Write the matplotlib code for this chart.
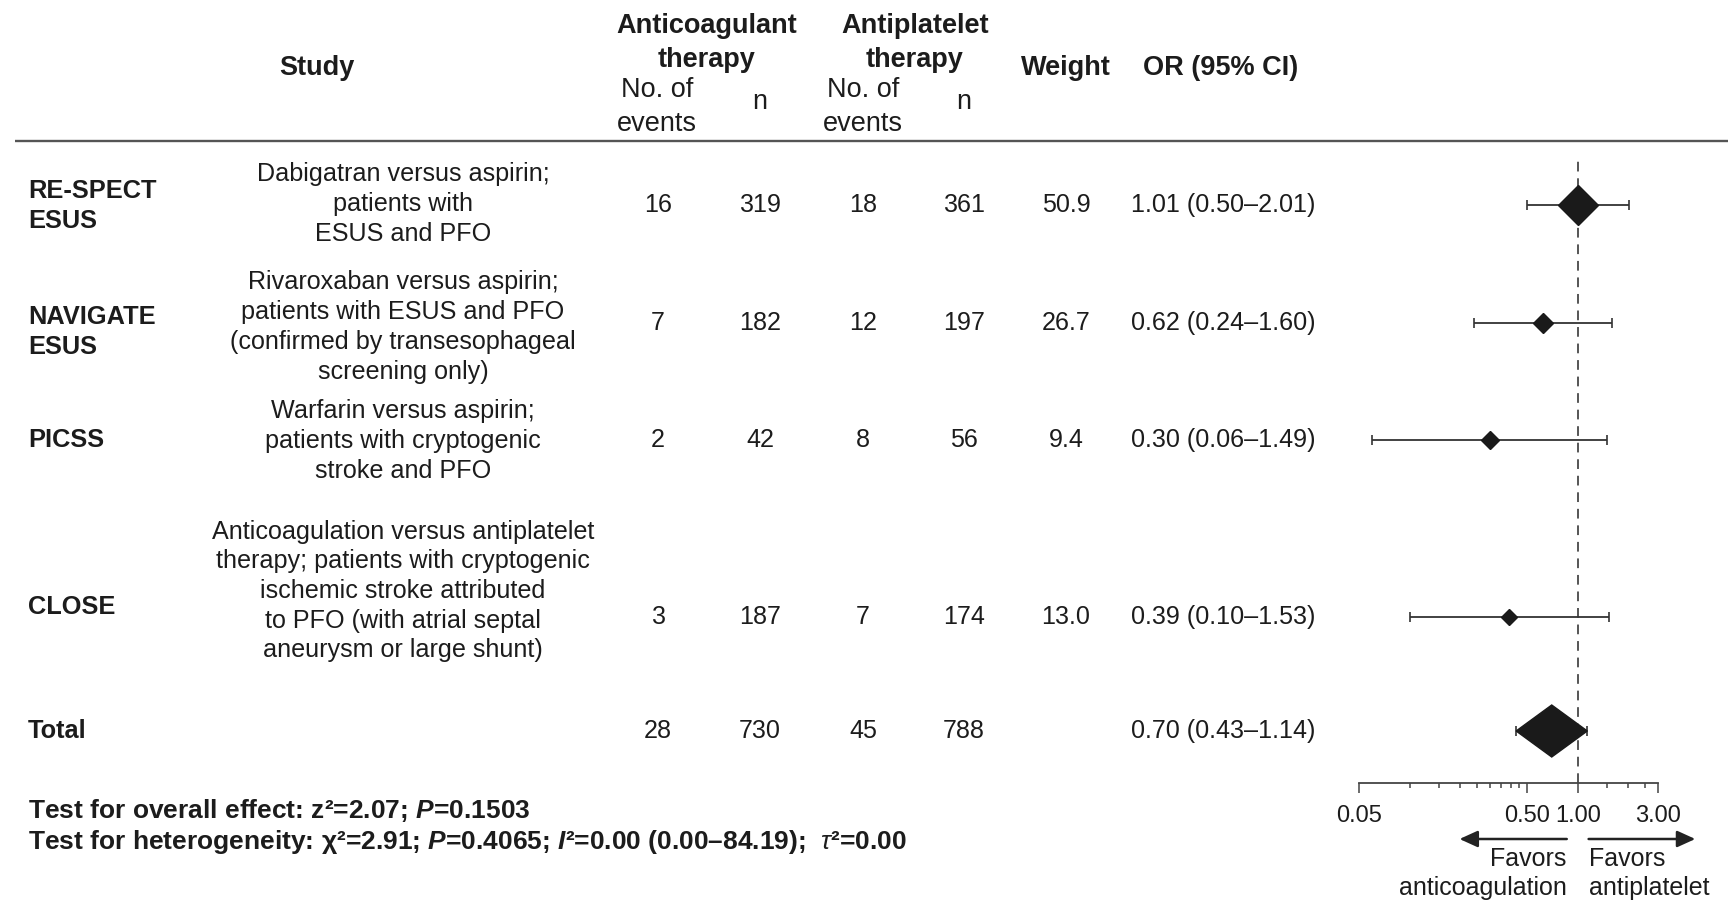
import matplotlib.pyplot as plt

plt.rcParams['font.family'] = ['Liberation Sans', 'DejaVu Sans']
plt.rcParams['mathtext.fontset'] = 'custom'
plt.rcParams['mathtext.rm'] = 'Liberation Sans'
plt.rcParams['mathtext.it'] = 'Liberation Sans:italic'
plt.rcParams['mathtext.bf'] = 'Liberation Sans:bold'
plt.rcParams['mathtext.bfit'] = 'Liberation Sans:italic:bold'

# Data
STUDIES = ["RE-SPECT\nESUS", "NAVIGATE\nESUS", "PICSS", "CLOSE"]
DESCRIPTIONS = [
    "Dabigatran versus aspirin;\npatients with\nESUS and PFO",
    "Rivaroxaban versus aspirin;\npatients with ESUS and PFO\n"
    "(confirmed by transesophageal\nscreening only)",
    "Warfarin versus aspirin;\npatients with cryptogenic\nstroke and PFO",
    "Anticoagulation versus antiplatelet\ntherapy; patients with cryptogenic\n"
    "ischemic stroke attributed\nto PFO (with atrial septal\naneurysm or large shunt)",
]
AC_EVENTS = [16, 7, 2, 3]
AC_N = [319, 182, 42, 187]
AP_EVENTS = [18, 12, 8, 7]
AP_N = [361, 197, 56, 174]
WEIGHTS = [50.9, 26.7, 9.4, 13.0]
OR = [1.01, 0.62, 0.30, 0.39]
CI_LO = [0.50, 0.24, 0.06, 0.10]
CI_HI = [2.01, 1.60, 1.49, 1.53]

TOTAL_EVENTS = [28, 730, 45, 788]
TOTAL_OR = 0.70
TOTAL_LO = 0.43
TOTAL_HI = 1.14

TICKS = [0.05, 0.5, 1.0, 3.0]
TICK_LABELS = ["0.05", "0.50", "1.00", "3.00"]
MINOR_TICKS = [0.1, 0.15, 0.2, 0.25, 0.3, 0.35, 0.4, 0.45, 1.5, 2.0, 2.5]

TEST_OVERALL = r"Test for overall effect: z²=2.07; $\mathbfit{P}$=0.1503"
TEST_HETERO = (r"Test for heterogeneity: χ²=2.91; $\mathbfit{P}$=0.4065; "
               r"$\mathbfit{I}$²=0.00 (0.00–84.19);  $\tau$²=0.00")

# Layout (pixels, top-left origin)
W, H = 1728, 900
ROW_Y = [205, 323, 440, 617]
NAME_Y = [206, 332, 440, 607]
DESC_Y = [204, 327, 441, 591]
TOTAL_Y = 731
COL_X = [658, 760, 863, 964, 1066]
OR_X = 1131
MARKER_SIZES = [20, 10, 9, 8]

TXT = '#1c1c1c'
BODY = 18.1
HEAD = 19.5

fig = plt.figure(figsize=(W / 100, H / 100), dpi=100)
tab = fig.add_axes([0, 0, 1, 1])
tab.set_xlim(0, W)
tab.set_ylim(H, 0)
tab.axis('off')

# header
tab.text(317, 68, "Study", ha='center', va='center', fontsize=HEAD,
         fontweight='bold', color=TXT)
for x, s in [(707, "Anticoagulant\ntherapy"), (915, "Antiplatelet\ntherapy")]:
    tab.text(x, 43, s, ha='center', va='center', fontsize=HEAD,
             fontweight='bold', color=TXT, linespacing=1.36)
for x in (657, 863):
    tab.text(x, 107, "No. of\nevents", ha='center', va='center',
             fontsize=HEAD, color=TXT, linespacing=1.36)
for x in (760, 964):
    tab.text(x, 102, "n", ha='center', va='center', fontsize=HEAD, color=TXT)
tab.text(1066, 68, "Weight", ha='center', va='center', fontsize=HEAD,
         fontweight='bold', color=TXT)
tab.text(1143, 68, "OR (95% CI)", ha='left', va='center', fontsize=HEAD,
         fontweight='bold', color=TXT)
tab.plot([15, W], [141, 141], color='#555555', lw=1.7, solid_capstyle='butt')

# rows
for i in range(len(STUDIES)):
    tab.text(28, NAME_Y[i], STUDIES[i], ha='left', va='center', fontsize=18.3,
             fontweight='bold', color=TXT, linespacing=1.3)
    tab.text(403, DESC_Y[i], DESCRIPTIONS[i], ha='center', va='center',
             fontsize=BODY, color=TXT, linespacing=1.3)
    vals = [AC_EVENTS[i], AC_N[i], AP_EVENTS[i], AP_N[i], f"{WEIGHTS[i]:.1f}"]
    for x, v in zip(COL_X, vals):
        tab.text(x, ROW_Y[i], str(v), ha='center', va='center',
                 fontsize=BODY, color=TXT)
    tab.text(OR_X, ROW_Y[i], f"{OR[i]:.2f} ({CI_LO[i]:.2f}–{CI_HI[i]:.2f})",
             ha='left', va='center', fontsize=BODY, color=TXT)

tab.text(28, TOTAL_Y, "Total", ha='left', va='center', fontsize=18.3,
         fontweight='bold', color=TXT)
for x, v in zip(COL_X, TOTAL_EVENTS):
    tab.text(x, TOTAL_Y, str(v), ha='center', va='center', fontsize=BODY,
             color=TXT)
tab.text(OR_X, TOTAL_Y, f"{TOTAL_OR:.2f} ({TOTAL_LO:.2f}–{TOTAL_HI:.2f})",
         ha='left', va='center', fontsize=BODY, color=TXT)

tab.text(28, 811, TEST_OVERALL, ha='left', va='center', fontsize=19,
         fontweight='bold', color=TXT)
tab.text(28, 842, TEST_HETERO, ha='left', va='center', fontsize=19,
         fontweight='bold', color=TXT)

# forest panel
x0, x1, y0, y1 = 1359, 1658, 160, 783
fa = fig.add_axes([x0 / W, 1 - y1 / H, (x1 - x0) / W, (y1 - y0) / H])
fa.set_facecolor('none')
fa.set_xscale('log')
fa.set_xlim(TICKS[0], TICKS[-1])
fa.set_ylim(y1, y0)
for sp in ('top', 'left', 'right'):
    fa.spines[sp].set_visible(False)
fa.spines['bottom'].set_color('#444444')
fa.spines['bottom'].set_linewidth(1.3)
fa.set_yticks([])
fa.set_xticks(TICKS)
fa.set_xticklabels(TICK_LABELS)
fa.set_xticks(MINOR_TICKS, minor=True)
fa.xaxis.set_minor_formatter(plt.NullFormatter())
fa.tick_params(axis='x', which='major', length=7.2, width=1.1, pad=9,
               labelsize=17, colors='#444444', labelcolor=TXT)
fa.tick_params(axis='x', which='minor', length=3.6, width=1.1,
               colors='#444444')

fa.axvline(1.0, color='#555555', lw=1.4, linestyle=(0, (5, 3.5)), zorder=1)

for i in range(len(OR)):
    fa.errorbar(OR[i], ROW_Y[i], xerr=[[OR[i] - CI_LO[i]], [CI_HI[i] - OR[i]]],
                fmt='D', color='#1a1a1a', ecolor='#333333', elinewidth=1.3,
                capsize=3.5, capthick=1.2, markersize=MARKER_SIZES[i], zorder=3)

fa.errorbar(TOTAL_OR, TOTAL_Y,
            xerr=[[TOTAL_OR - TOTAL_LO], [TOTAL_HI - TOTAL_OR]],
            fmt='none', ecolor='#333333', elinewidth=1.2, capsize=3.5,
            capthick=1.2, zorder=2)
fa.fill([TOTAL_LO, TOTAL_OR, TOTAL_HI, TOTAL_OR],
        [TOTAL_Y, TOTAL_Y - 26, TOTAL_Y, TOTAL_Y + 26],
        color='#1a1a1a', zorder=3, clip_on=False)

# direction arrows
ay = (y1 - 839) / (y1 - y0)
arrow = dict(arrowstyle='-|>,head_length=1.1,head_width=0.5', lw=1.8,
             color='#222222', shrinkA=0, shrinkB=0)
fa.annotate("", xy=(0.198, ay), xytext=(0.86, ay),
            xycoords=('data', 'axes fraction'),
            textcoords=('data', 'axes fraction'),
            arrowprops=arrow, annotation_clip=False)
fa.annotate("", xy=(5.0, ay), xytext=(1.16, ay),
            xycoords=('data', 'axes fraction'),
            textcoords=('data', 'axes fraction'),
            arrowprops=arrow, annotation_clip=False)
ty = (y1 - 847) / (y1 - y0)
fa.text(0.86, ty, "Favors\nanticoagulation", transform=fa.get_xaxis_transform(),
        ha='right', va='top', multialignment='right', fontsize=18,
        color=TXT, linespacing=1.25, clip_on=False)
fa.text(1.16, ty, "Favors\nantiplatelet", transform=fa.get_xaxis_transform(),
        ha='left', va='top', multialignment='left', fontsize=18,
        color=TXT, linespacing=1.25, clip_on=False)

fig.savefig("out.png", dpi=100)
